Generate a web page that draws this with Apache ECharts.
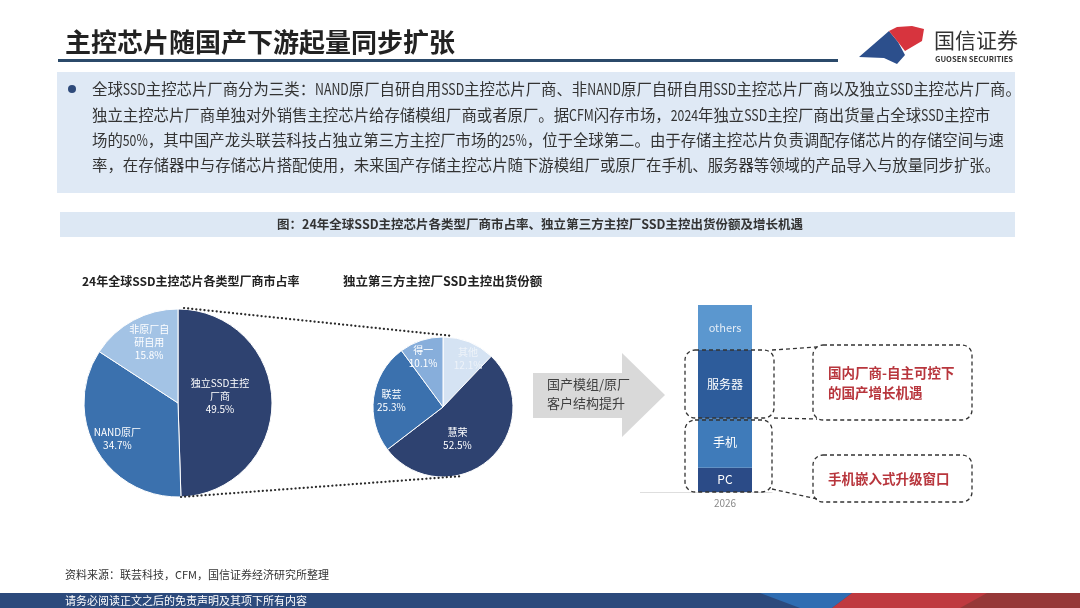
<!DOCTYPE html>
<html>
<head>
<meta charset="utf-8">
<script src="https://cdn.jsdelivr.net/npm/echarts@6/dist/echarts.min.js"></script>
<style>
html,body{margin:0;padding:0;background:#fff;}
#c{width:1080px;height:608px;}
</style>
</head>
<body>
<div id="c"></div>
<script>
// ---- data ----
const pageTitle = '主控芯片随国产下游起量同步扩张';
const bodyLines = [
  '全球SSD主控芯片厂商分为三类：NAND原厂自研自用SSD主控芯片厂商、非NAND原厂自研自用SSD主控芯片厂商以及独立SSD主控芯片厂商。',
  '独立主控芯片厂商单独对外销售主控芯片给存储模组厂商或者原厂。据CFM闪存市场，2024年独立SSD主控厂商出货量占全球SSD主控市',
  '场的50%，其中国产龙头联芸科技占独立第三方主控厂市场的25%，位于全球第二。由于存储主控芯片负责调配存储芯片的存储空间与速',
  '率，在存储器中与存储芯片搭配使用，未来国产存储主控芯片随下游模组厂或原厂在手机、服务器等领域的产品导入与放量同步扩张。'
];
const figureCaption = '图：24年全球SSD主控芯片各类型厂商市占率、独立第三方主控厂SSD主控出货份额及增长机遇';
const bigPieTitle = '24年全球SSD主控芯片各类型厂商市占率';
const smallPieTitle = '独立第三方主控厂SSD主控出货份额';
const bigPieNames = ['独立SSD主控\n厂商', 'NAND原厂', '非原厂自\n研自用'];
const bigPieValues = [49.5, 34.7, 15.8];
const smallPieNames = ['其他', '慧荣', '联芸', '得一'];
const smallPieValues = [12.1, 52.5, 25.3, 10.1];
const barCategories = ['2026'];
const barSeriesNames = ['PC', '手机', '服务器', 'others'];
const barValues = [13, 26.5, 36.5, 24];
const arrowText = '国产模组/原厂\n客户结构提升';
const note1 = '国内厂商-自主可控下\n的国产增长机遇';
const note2 = '手机嵌入式升级窗口';
const sourceText = '资料来源：联芸科技，CFM，国信证券经济研究所整理';
const footerText = '请务必阅读正文之后的免责声明及其项下所有内容';

// ---- styles ----
const FF = '"Noto Sans CJK SC","Noto Sans",sans-serif';
const bigPieColors = ['#2e4270', '#3b71ae', '#a3c3e5'];
const bigPieOffsets = [[-8, -6], [-17, 11], [-5, -17]];
const smallPieColors = ['#d5e3f3', '#2e4270', '#3b71ae', '#87aedb'];
const smallPieOffsets = [[11, -13], [-11, 3], [-14, -1], [-8, -14]];
const barColors = ['#2b4b87', '#3f7bba', '#2d5c9b', '#5b97cf'];
const barLabelColors = ['#ffffff', '#ffffff', '#ffffff', '#e3ecf6'];

function txt(x, y, text, opt) {
  opt = opt || {};
  return {
    type: 'text', x: x, y: y, z: opt.z || 10,
    scaleX: opt.scaleX || 1,
    style: {
      text: text,
      fontSize: opt.size || 12,
      fontFamily: FF,
      fontWeight: opt.weight || 'normal',
      fill: opt.color || '#333',
      textAlign: opt.align || 'left',
      textVerticalAlign: 'middle',
      lineHeight: opt.lh || undefined
    }
  };
}
// body line: latin/digit runs drawn horizontally condensed (like the half-width font of the original)
const measureCtx = document.createElement('canvas').getContext('2d');
function bodyLine(x, y, s, size, latinScale) {
  const runs = s.match(/[A-Za-z0-9%.]+|[^A-Za-z0-9%.]+/g);
  const children = [];
  let cx = x;
  measureCtx.font = size + 'px ' + FF;
  runs.forEach(function (r) {
    const latin = /^[A-Za-z0-9%.]+$/.test(r);
    const sc = latin ? latinScale : 1;
    children.push(txt(cx, y, r, { size: size, color: '#333', scaleX: sc }));
    cx += measureCtx.measureText(r).width * sc;
  });
  return { type: 'group', children: children };
}
function dashBox(x, y, w, h) {
  return { type: 'rect', z: 100, shape: { x: x, y: y, width: w, height: h, r: 10 },
    style: { fill: 'none', stroke: '#333', lineWidth: 1.3, lineDash: [4, 3] } };
}
function dashLine(x1, y1, x2, y2) {
  return { type: 'line', z: 100, shape: { x1: x1, y1: y1, x2: x2, y2: y2 },
    style: { stroke: '#333', lineWidth: 1.3, lineDash: [4, 3] } };
}
function dotLine(x1, y1, x2, y2) {
  return { type: 'line', z: 5, shape: { x1: x1, y1: y1, x2: x2, y2: y2 },
    style: { stroke: '#2a2a2a', lineWidth: 2.2, lineDash: [0.1, 4], lineCap: 'round' } };
}

const graphics = [
  // title
  txt(65, 42, pageTitle, { size: 26, weight: 'bold', color: '#222' }),
  { type: 'rect', z: 5, shape: { x: 58, y: 59, width: 780, height: 3 }, style: { fill: '#2b4a6a' } },
  // logo
  { type: 'polygon', z: 10, shape: { points: [[859, 57], [889, 31], [898, 42], [905, 55], [897, 64], [884, 58]] }, style: { fill: '#2c4f8c' } },
  { type: 'polygon', z: 11, shape: { points: [[889, 31], [897, 27], [912, 26], [924, 29], [922, 41], [905, 51], [898, 42]] }, style: { fill: '#d7343e' } },
  txt(934, 40, '国信证券', { size: 21, color: '#333' }),
  txt(935, 59, 'GUOSEN SECURITIES', { size: 7.6, weight: 'bold', color: '#333' }),
  // text box
  { type: 'rect', z: 1, shape: { x: 57, y: 72, width: 958, height: 121 }, style: { fill: '#dfe9f5' } },
  { type: 'circle', z: 10, shape: { cx: 72, cy: 89, r: 4 }, style: { fill: '#2e4a7a' } },
  // caption band
  { type: 'rect', z: 1, shape: { x: 60, y: 212, width: 955, height: 25 }, style: { fill: '#dde8f4' } },
  txt(540, 224.5, figureCaption, { size: 12.5, weight: 'bold', color: '#333', align: 'center' }),
  // chart titles
  txt(82, 281, bigPieTitle, { size: 12, weight: 'bold', color: '#222' }),
  txt(343, 281, smallPieTitle, { size: 12.5, weight: 'bold', color: '#222' }),
  // dotted connectors between pies
  dotLine(184, 308, 453, 336),
  dotLine(181, 497, 463, 476),
  // arrow
  { type: 'polygon', z: 2, shape: { points: [[533, 373], [622, 373], [622, 353], [665, 395], [622, 437], [622, 418], [533, 418]] }, style: { fill: '#d9d9d9' } },
  txt(547, 394, arrowText, { size: 13, color: '#404040', lh: 19 }),
  // axis line extension left of the bar
  { type: 'line', z: 2, shape: { x1: 640, y1: 492.5, x2: 680, y2: 492.5 }, style: { stroke: '#dedede', lineWidth: 1 } },
  // annotation boxes
  dashBox(685, 350, 89, 68),
  dashBox(685, 420, 87, 72),
  dashBox(813, 345, 159, 75),
  dashBox(813, 455, 159, 47),
  dashLine(772, 350, 817, 347),
  dashLine(774, 418, 817, 419),
  dashLine(772, 489, 817, 499),
  txt(828, 383, note1, { size: 13.5, weight: 'bold', color: '#b8363d', lh: 20 }),
  txt(828, 479, note2, { size: 13.5, weight: 'bold', color: '#b8363d' }),
  // source
  txt(65, 575, sourceText, { size: 11, color: '#333' }),
  // footer
  { type: 'rect', z: 1, shape: { x: 0, y: 593, width: 1080, height: 15 }, style: { fill: '#2c4a7c' } },
  { type: 'polygon', z: 2, shape: { points: [[760, 593], [852, 593], [832, 608], [800, 608]] }, style: { fill: '#2f6db2' } },
  { type: 'polygon', z: 3, shape: { points: [[852, 593], [1080, 593], [1080, 608], [832, 608]] }, style: { fill: '#bf3a40' } },
  { type: 'polygon', z: 4, shape: { points: [[987, 593], [1080, 593], [1080, 608], [960, 608]] }, style: { fill: '#963838' } },
  txt(65, 601, footerText, { size: 11, color: '#ffffff', z: 10 })
];
const bodyYs = [89, 115, 140, 165];
bodyLines.forEach(function (l, i) {
  graphics.push(bodyLine(92, bodyYs[i], l, 15.4, 0.8));
});

function pieLabelFmt(p) { return p.name + '\n' + p.value.toFixed(1) + '%'; }

const option = {
  animation: false,
  backgroundColor: '#ffffff',
  textStyle: { fontFamily: FF },
  graphic: { elements: graphics },
  grid: { left: 678, right: 308, top: 305, bottom: 116 },
  xAxis: {
    type: 'category', data: barCategories,
    axisLine: { show: true, lineStyle: { color: '#dedede', width: 1 } },
    axisTick: { show: false },
    axisLabel: { color: '#8a8a8a', fontSize: 10, margin: 6 }
  },
  yAxis: { type: 'value', min: 0, max: 100, show: false },
  series: [
    {
      type: 'pie', center: [178, 403], radius: 94, startAngle: 90, z: 3,
      label: { show: true, position: 'inside', color: '#fff', fontSize: 10, lineHeight: 13, formatter: pieLabelFmt },
      labelLine: { show: false },
      itemStyle: { borderColor: '#fff', borderWidth: 1 },
      emphasis: { disabled: true },
      data: bigPieValues.map(function (v, i) {
        return { value: v, name: bigPieNames[i], itemStyle: { color: bigPieColors[i] }, label: { offset: bigPieOffsets[i] } };
      })
    },
    {
      type: 'pie', center: [443, 407], radius: 70, startAngle: 90, z: 3,
      label: { show: true, position: 'inside', color: '#fff', fontSize: 10, lineHeight: 13, formatter: pieLabelFmt },
      labelLine: { show: false },
      itemStyle: { borderColor: '#fff', borderWidth: 1 },
      emphasis: { disabled: true },
      data: smallPieValues.map(function (v, i) {
        return { value: v, name: smallPieNames[i], itemStyle: { color: smallPieColors[i] },
          label: { offset: smallPieOffsets[i], color: i === 0 ? '#eef3f9' : '#fff' } };
      })
    }
  ].concat(barSeriesNames.map(function (n, i) {
    return {
      type: 'bar', name: n, stack: 'total', barWidth: 54, z: 3,
      itemStyle: { color: barColors[i] },
      emphasis: { disabled: true },
      label: { show: true, position: 'inside', formatter: n, color: barLabelColors[i], fontSize: i === 3 ? 11 : 12 },
      data: [barValues[i]]
    };
  }))
};

const chart = echarts.init(document.getElementById('c'), null, { width: 1080, height: 608 });
chart.setOption(option);
</script>
</body>
</html>
